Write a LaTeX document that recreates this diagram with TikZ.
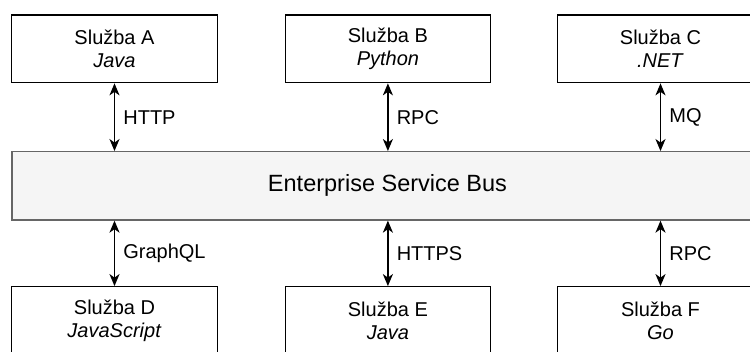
\documentclass[tikz,border=0pt]{standalone}
\usepackage{fontspec}
\setmainfont{Liberation Sans}
\usetikzlibrary{arrows.meta}
\definecolor{busfill}{HTML}{F5F5F5}
\definecolor{busline}{HTML}{666666}
\tikzset{
  svc/.style={draw=black, line width=1.3pt, fill=white, minimum width=205.5pt, minimum height=67.7pt, inner sep=0pt, align=center, font=\fontsize{20}{23}\selectfont},
  bus/.style={draw=busline, line width=1.3pt, fill=busfill, minimum width=751pt, minimum height=68.3pt, inner sep=0pt, font=\fontsize{23.5}{27}\selectfont},
  link/.style={{Stealth[length=12pt,width=10pt,inset=3.5pt]}-{Stealth[length=12pt,width=10pt,inset=3.5pt]}, line width=1.7pt},
  lbl/.style={font=\fontsize{20}{23}\selectfont, anchor=west, inner sep=0pt, xshift=8pt}
}
\begin{document}
\begin{tikzpicture}[x=1pt,y=-1pt]
\useasboundingbox (0,0) rectangle (750,352);
\clip (0,0) rectangle (750,352);
\node[svc] (a) at (114.5,48.85) {Služba A\\\textit{Java}};
\node[svc] (b) at (387.9,48.85) {Služba B\\\textit{Python}};
\node[svc] (c) at (660.5,48.85) {Služba C\\\textit{.NET}};
\node[bus] (esb) at (387.5,185.85) {Enterprise Service Bus};
\node[svc] (d) at (114.5,320.6) {Služba D\\\textit{JavaScript}};
\node[svc] (e) at (387.9,320.6) {Služba E\\\textit{Java}};
\node[svc] (f) at (660.5,320.6) {Služba F\\\textit{Go}};
\draw[link] (a.south) -- (a.south |- esb.north) node[midway,lbl] {HTTP};
\draw[link] (b.south) -- (b.south |- esb.north) node[midway,lbl] {RPC};
\draw[link] (c.south) -- (c.south |- esb.north) node[midway,lbl] {MQ};
\draw[link] (d.north |- esb.south) -- (d.north) node[midway,lbl] {GraphQL};
\draw[link] (e.north |- esb.south) -- (e.north) node[midway,lbl] {HTTPS};
\draw[link] (f.north |- esb.south) -- (f.north) node[midway,lbl] {RPC};
\end{tikzpicture}
\end{document}
